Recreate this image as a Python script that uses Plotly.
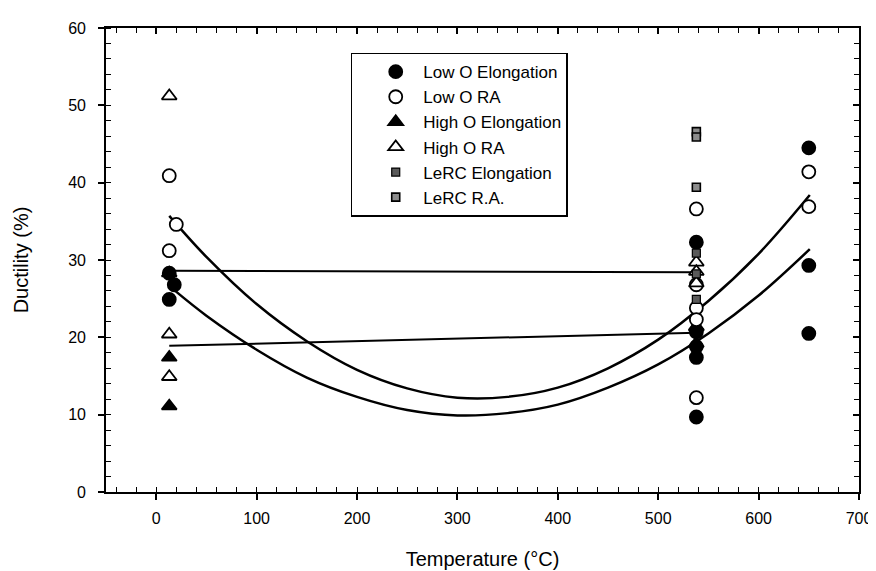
import plotly.graph_objects as go

# ---- data ----
low_o_el_x = [13, 18, 13, 538, 538, 538, 538, 538, 650, 650, 650]
low_o_el_y = [28.3, 26.8, 24.9, 32.3, 20.7, 18.8, 17.4, 9.7, 44.5, 29.3, 20.5]

low_o_ra_x = [13, 20, 13, 538, 538, 538, 538, 538, 650, 650]
low_o_ra_y = [40.9, 34.6, 31.2, 36.6, 26.8, 23.8, 22.3, 12.2, 41.4, 36.9]

high_o_el_x = [13, 13, 13, 538, 538, 538]
high_o_el_y = [28.3, 17.4, 11.1, 21.3, 19.2, 21.4]

high_o_ra_x = [13, 13, 13, 538, 538, 538]
high_o_ra_y = [51.2, 20.4, 14.9, 29.7, 27.0, 28.5]

lerc_el_x = [538, 538, 538]
lerc_el_y = [30.9, 28.2, 24.9]

lerc_ra_x = [538, 538, 538]
lerc_ra_y = [46.6, 45.9, 39.4]

# fitted curves
ra_fit_x = [13, 50, 100, 150, 200, 250, 300, 350, 400, 450, 500, 550, 600, 651]
ra_fit_y = [35.7, 30.4, 24.3, 19.5, 15.8, 13.4, 12.2, 12.3, 13.5, 16.0, 19.7, 24.7, 30.8, 38.4]

el_fit_x = [18, 50, 100, 150, 200, 250, 300, 350, 400, 450, 500, 550, 600, 651]
el_fit_y = [26.1, 22.8, 18.4, 14.8, 12.3, 10.6, 9.9, 10.2, 11.3, 13.5, 16.5, 20.5, 25.4, 31.4]

hi_ra_fit_x = [13, 538]
hi_ra_fit_y = [28.6, 28.4]

hi_el_fit_x = [13, 538]
hi_el_fit_y = [18.9, 20.6]

x_ticks = [0, 100, 200, 300, 400, 500, 600, 700]
y_ticks = [0, 10, 20, 30, 40, 50, 60]

FONT = "Liberation Sans, Arial, sans-serif"

fig = go.Figure()

for fx, fy in [(ra_fit_x, ra_fit_y), (el_fit_x, el_fit_y)]:
    fig.add_trace(go.Scatter(x=fx, y=fy, mode="lines", line=dict(color="black", width=2.5, shape="spline"),
                             showlegend=False, hoverinfo="skip"))
for fx, fy in [(hi_ra_fit_x, hi_ra_fit_y), (hi_el_fit_x, hi_el_fit_y)]:
    fig.add_trace(go.Scatter(x=fx, y=fy, mode="lines", line=dict(color="black", width=2),
                             showlegend=False, hoverinfo="skip"))

def pts(x, y, name, symbol, fill, size=13, lw=1.8):
    fig.add_trace(go.Scatter(x=x, y=y, mode="markers", name=name,
                             marker=dict(symbol=symbol, size=size, color=fill,
                                         line=dict(color="black", width=lw))))

pts(high_o_el_x, high_o_el_y, "High O Elongation", "triangle-up", "black")
pts(low_o_el_x, low_o_el_y, "Low O Elongation", "circle", "black")
pts(low_o_ra_x, low_o_ra_y, "Low O RA", "circle", "white")
pts(high_o_ra_x, high_o_ra_y, "High O RA", "triangle-up", "white")
pts(lerc_el_x, lerc_el_y, "LeRC Elongation", "square", "#5a5a5a", size=8, lw=1.2)
pts(lerc_ra_x, lerc_ra_y, "LeRC R.A.", "square", "#8c8c8c", size=8, lw=1.6)

# dummy trace to activate mirrored axes
fig.add_trace(go.Scatter(x=[None], y=[None], xaxis="x2", yaxis="y2", showlegend=False, hoverinfo="skip"))

order = {"Low O Elongation": 1, "Low O RA": 2, "High O Elongation": 3, "High O RA": 4,
         "LeRC Elongation": 5, "LeRC R.A.": 6}
for tr in fig.data:
    if tr.name in order:
        tr.legendrank = order[tr.name]

axis_common = dict(showgrid=False, zeroline=False, showline=True, linecolor="black", linewidth=1.6)
minor_x = dict(dtick=20, tick0=0, ticks="inside", ticklen=5, tickwidth=1.3, tickcolor="black")
minor_y = dict(dtick=2, tick0=0, ticks="inside", ticklen=5, tickwidth=1.3, tickcolor="black")

fig.update_layout(
    width=876, height=571,
    margin=dict(l=97, r=22, t=17, b=82),
    paper_bgcolor="white", plot_bgcolor="white",
    font=dict(family=FONT, size=16, color="black"),
    xaxis=dict(range=[-50, 700], tickvals=x_ticks, ticks="outside", ticklen=6, tickwidth=1.6,
               tickcolor="black", minor=minor_x, ticklabelstandoff=5,
               title=dict(text="Temperature (°C)", font=dict(size=20), standoff=26),
               tickfont=dict(size=16), **axis_common),
    yaxis=dict(range=[0, 60], tickvals=y_ticks, ticks="outside", ticklen=6, tickwidth=1.6,
               tickcolor="black", minor=minor_y, ticklabelstandoff=9,
               title=dict(text="Ductility (%)", font=dict(size=20), standoff=34),
               tickfont=dict(size=16), **axis_common),
    xaxis2=dict(range=[-50, 700], overlaying="x", side="top", anchor="y2", tickvals=x_ticks,
                ticks="inside", ticklen=6, tickwidth=1.6, tickcolor="black", showticklabels=False,
                minor=minor_x, **axis_common),
    yaxis2=dict(range=[0, 60], overlaying="y", side="right", anchor="x2", tickvals=y_ticks,
                ticks="inside", ticklen=6, tickwidth=1.6, tickcolor="black", showticklabels=False,
                minor=minor_y, **axis_common),
    legend=dict(x=0.325, y=0.947, xanchor="left", yanchor="top", bgcolor="white",
                bordercolor="black", borderwidth=1.5, font=dict(size=17, family=FONT),
                itemwidth=45, indentation=16, tracegroupgap=0),
    showlegend=True,
)

fig.write_html("out.html")
